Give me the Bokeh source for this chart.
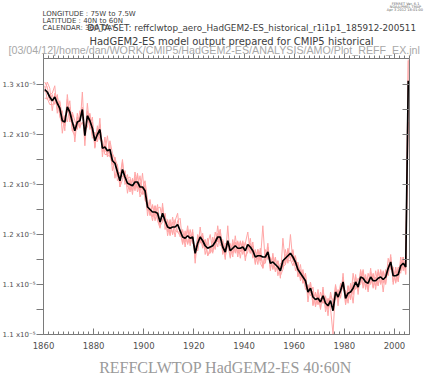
from bokeh.plotting import figure
from bokeh.models import FixedTicker, LinearAxis, Label, Range1d
from bokeh.embed import file_html
from bokeh.resources import INLINE

# ---------------- data (units of 1e-5) ----------------
years = list(range(1860, 2006))

ens_mean = [
    1.276, 1.274, 1.270, 1.267, 1.270, 1.265, 1.261, 1.251, 1.250, 1.262,
    1.258, 1.250, 1.243, 1.250, 1.251, 1.260, 1.239, 1.255, 1.251, 1.245,
    1.235, 1.240, 1.244, 1.229, 1.230, 1.227, 1.228, 1.219, 1.217, 1.210,
    1.203, 1.212, 1.206, 1.201, 1.200, 1.199, 1.202, 1.202, 1.198, 1.198,
    1.195, 1.182, 1.180, 1.178, 1.178, 1.177, 1.170, 1.177, 1.171, 1.166,
    1.165, 1.166, 1.166, 1.168, 1.163, 1.158, 1.157, 1.159, 1.157, 1.158,
    1.145, 1.153, 1.158, 1.155, 1.151, 1.149, 1.150, 1.151, 1.154, 1.158,
    1.158, 1.150, 1.146, 1.155, 1.147, 1.149, 1.151, 1.149, 1.149, 1.150,
    1.147, 1.152, 1.150, 1.147, 1.142, 1.143, 1.143, 1.142, 1.142, 1.146,
    1.137, 1.138, 1.136, 1.134, 1.131, 1.139, 1.141, 1.143, 1.145, 1.142,
    1.138, 1.132, 1.129, 1.126, 1.123, 1.114, 1.117, 1.110, 1.108, 1.109,
    1.106, 1.111, 1.105, 1.103, 1.107, 1.099, 1.114, 1.110, 1.115, 1.122,
    1.109, 1.113, 1.114, 1.117, 1.122, 1.118, 1.126, 1.125, 1.122, 1.121,
    1.126, 1.123, 1.123, 1.125, 1.126, 1.124, 1.126, 1.133, 1.138, 1.127,
    1.127, 1.128, 1.135, 1.137, 1.134, 1.283,
]

member_1 = [
    1.282, 1.278, 1.267, 1.272, 1.264, 1.272, 1.257, 1.259, 1.243, 1.272,
    1.253, 1.256, 1.234, 1.254, 1.245, 1.274, 1.236, 1.265, 1.244, 1.250,
    1.229, 1.247, 1.239, 1.235, 1.226, 1.239, 1.222, 1.224, 1.205, 1.216,
    1.198, 1.218, 1.202, 1.208, 1.194, 1.204, 1.195, 1.208, 1.193, 1.209,
    1.187, 1.186, 1.175, 1.184, 1.171, 1.181, 1.182, 1.171, 1.176, 1.162,
    1.172, 1.160, 1.171, 1.177, 1.158, 1.164, 1.150, 1.164, 1.153, 1.164,
    1.137, 1.158, 1.154, 1.161, 1.144, 1.153, 1.160, 1.146, 1.162, 1.154,
    1.164, 1.144, 1.153, 1.150, 1.152, 1.142, 1.159, 1.145, 1.154, 1.144,
    1.153, 1.162, 1.145, 1.151, 1.136, 1.148, 1.139, 1.167, 1.137, 1.150,
    1.131, 1.145, 1.131, 1.139, 1.125, 1.157, 1.136, 1.149, 1.141, 1.148,
    1.131, 1.137, 1.125, 1.132, 1.118, 1.118, 1.111, 1.115, 1.103, 1.116,
    1.100, 1.116, 1.101, 1.109, 1.102, 1.105, 1.109, 1.116, 1.109, 1.129,
    1.104, 1.119, 1.108, 1.122, 1.118, 1.125, 1.121, 1.131, 1.116, 1.129,
    1.121, 1.129, 1.119, 1.130, 1.120, 1.131, 1.121, 1.141, 1.132, 1.132,
    1.122, 1.134, 1.131, 1.142, 1.129, 1.300,
]

member_2 = [
    1.274, 1.282, 1.277, 1.259, 1.273, 1.260, 1.267, 1.241, 1.255, 1.258,
    1.267, 1.243, 1.248, 1.244, 1.259, 1.254, 1.246, 1.250, 1.257, 1.237,
    1.239, 1.234, 1.253, 1.222, 1.238, 1.222, 1.232, 1.211, 1.222, 1.206,
    1.210, 1.206, 1.211, 1.193, 1.204, 1.192, 1.210, 1.197, 1.207, 1.192,
    1.200, 1.175, 1.188, 1.174, 1.183, 1.171, 1.165, 1.185, 1.164, 1.172,
    1.160, 1.170, 1.158, 1.171, 1.173, 1.153, 1.161, 1.153, 1.164, 1.153,
    1.151, 1.147, 1.166, 1.151, 1.156, 1.143, 1.146, 1.158, 1.149, 1.167,
    1.151, 1.155, 1.140, 1.167, 1.141, 1.153, 1.146, 1.155, 1.141, 1.154,
    1.142, 1.146, 1.157, 1.141, 1.147, 1.136, 1.149, 1.133, 1.148, 1.140,
    1.142, 1.133, 1.142, 1.127, 1.135, 1.133, 1.148, 1.137, 1.160, 1.138,
    1.143, 1.126, 1.136, 1.121, 1.129, 1.106, 1.122, 1.103, 1.114, 1.104,
    1.114, 1.105, 1.110, 1.095, 1.114, 1.104, 1.120, 1.103, 1.120, 1.117,
    1.115, 1.105, 1.121, 1.112, 1.128, 1.112, 1.131, 1.117, 1.128, 1.116,
    1.133, 1.117, 1.131, 1.119, 1.131, 1.114, 1.132, 1.128, 1.144, 1.120,
    1.134, 1.122, 1.142, 1.131, 1.140, 1.299,
]

member_3 = [
    1.279, 1.268, 1.272, 1.273, 1.279, 1.257, 1.266, 1.255, 1.247, 1.268,
    1.250, 1.258, 1.251, 1.245, 1.254, 1.262, 1.231, 1.259, 1.247, 1.254,
    1.230, 1.245, 1.236, 1.233, 1.224, 1.224, 1.235, 1.225, 1.220, 1.203,
    1.206, 1.220, 1.200, 1.205, 1.206, 1.195, 1.206, 1.194, 1.202, 1.196,
    1.203, 1.188, 1.176, 1.183, 1.175, 1.184, 1.166, 1.182, 1.167, 1.171,
    1.159, 1.174, 1.163, 1.162, 1.159, 1.163, 1.154, 1.167, 1.151, 1.162,
    1.141, 1.160, 1.153, 1.159, 1.148, 1.157, 1.145, 1.155, 1.148, 1.161,
    1.153, 1.156, 1.142, 1.152, 1.153, 1.145, 1.154, 1.142, 1.155, 1.147,
    1.154, 1.148, 1.153, 1.142, 1.148, 1.140, 1.147, 1.135, 1.138, 1.153,
    1.133, 1.142, 1.130, 1.139, 1.127, 1.132, 1.144, 1.139, 1.139, 1.147,
    1.135, 1.138, 1.123, 1.130, 1.116, 1.120, 1.113, 1.118, 1.102, 1.112,
    1.101, 1.118, 1.098, 1.108, 1.101, 1.080, 1.119, 1.107, 1.121, 1.116,
    1.113, 1.109, 1.119, 1.105, 1.126, 1.115, 1.132, 1.120, 1.126, 1.114,
    1.130, 1.118, 1.126, 1.119, 1.132, 1.121, 1.131, 1.127, 1.142, 1.122,
    1.131, 1.123, 1.138, 1.133, 1.139, 1.261,
]

member_4 = [
    1.269, 1.269, 1.264, 1.264, 1.265, 1.271, 1.254, 1.249, 1.255, 1.250,
    1.262, 1.243, 1.239, 1.257, 1.246, 1.250, 1.243, 1.246, 1.256, 1.239,
    1.242, 1.234, 1.248, 1.226, 1.232, 1.223, 1.223, 1.216, 1.221, 1.215,
    1.198, 1.204, 1.211, 1.198, 1.196, 1.205, 1.197, 1.209, 1.190, 1.195,
    1.190, 1.179, 1.181, 1.171, 1.183, 1.172, 1.167, 1.170, 1.177, 1.159,
    1.169, 1.160, 1.172, 1.162, 1.162, 1.152, 1.163, 1.152, 1.160, 1.153,
    1.151, 1.147, 1.159, 1.149, 1.156, 1.143, 1.149, 1.145, 1.157, 1.150,
    1.164, 1.145, 1.149, 1.151, 1.142, 1.156, 1.145, 1.154, 1.146, 1.155,
    1.139, 1.152, 1.145, 1.154, 1.137, 1.148, 1.137, 1.133, 1.145, 1.141,
    1.142, 1.132, 1.141, 1.131, 1.137, 1.134, 1.136, 1.147, 1.140, 1.135,
    1.143, 1.127, 1.132, 1.121, 1.129, 1.112, 1.122, 1.104, 1.113, 1.104,
    1.109, 1.105, 1.111, 1.100, 1.111, 1.107, 1.108, 1.114, 1.110, 1.126,
    1.104, 1.119, 1.108, 1.129, 1.116, 1.120, 1.120, 1.132, 1.118, 1.125,
    1.120, 1.128, 1.116, 1.132, 1.121, 1.130, 1.120, 1.136, 1.134, 1.134,
    1.121, 1.133, 1.129, 1.142, 1.128, 1.250,
]

members = [member_1, member_2, member_3, member_4]

x_bounds = (1860, 2006)
y_bounds = (1.08, 1.3008)

x_ticks = [1860, 1880, 1900, 1920, 1940, 1960, 1980, 2000]
x_tick_labels = ["1860", "1880", "1900", "1920", "1940", "1960", "1980", "2000"]
x_minor = list(range(1860, 2007, 2))

y_ticks = [1.08, 1.12, 1.16, 1.2, 1.24, 1.28]
y_tick_labels = ["1.1 x10\u207b\u2075", "1.1 x10\u207b\u2075", "1.2 x10\u207b\u2075",
                 "1.2 x10\u207b\u2075", "1.2 x10\u207b\u2075", "1.3 x10\u207b\u2075"]
y_minor = [1.10, 1.14, 1.18, 1.22, 1.26]

title_text = "REFFCLWTOP HadGEM2-ES 40:60N"
header_lines = ["LONGITUDE : 75W to 7.5W", "LATITUDE : 40N to 60N", "CALENDAR: 360_DAY"]
dataset_text = "DATA SET: reffclwtop_aero_HadGEM2-ES_historical_r1i1p1_185912-200511"
subtitle_text = "HadGEM2-ES model output prepared for CMIP5 historical"
path_text = "[03/04/12]/home/dan/WORK/CMIP5/HadGEM2-ES/ANALYSIS/AMO/Plot_REFF_EX.jnl"
stamp_lines = ["FERRET Ver. 6.1", "NOAA/PMEL TMAP", "Apr  3 2012 18:01:00"]

# ---------------- layout: the frame fills the canvas, the plot box sits inside ----------------
W, H = 437, 374
BOX_L, BOX_R, BOX_T, BOX_B = 43, 409, 58, 334   # pixel edges of the plot box

kx = (x_bounds[1] - x_bounds[0]) / (BOX_R - BOX_L)
ky = (y_bounds[1] - y_bounds[0]) / (BOX_B - BOX_T)
x_range = Range1d(x_bounds[0] - BOX_L * kx, x_bounds[1] + (W - BOX_R) * kx)
y_range = Range1d(y_bounds[0] - (H - BOX_B) * ky, y_bounds[1] + BOX_T * ky)

p = figure(width=W, height=H, output_backend="svg", toolbar_location=None,
           x_range=x_range, y_range=y_range, x_axis_type=None, y_axis_type=None,
           min_border=0, background_fill_color="white", border_fill_color="white")
p.outline_line_color = None
p.grid.visible = False

xs = [y + 0.5 for y in years]
for m in members:
    p.line(xs, m, line_color="#ffa6a6", line_width=1)
p.line(xs, ens_mean, line_color="black", line_width=1.7)

AX = "#7a7a7a"
LBL = "#505050"

xt = FixedTicker(ticks=x_ticks, minor_ticks=x_minor)
yt = FixedTicker(ticks=y_ticks, minor_ticks=y_minor)

bottom = LinearAxis(ticker=xt, fixed_location=y_bounds[0], bounds=x_bounds,
                    major_label_overrides=dict(zip(x_ticks, x_tick_labels)),
                    axis_line_color=AX, major_tick_line_color=AX, minor_tick_line_color=AX,
                    major_tick_in=6, major_tick_out=0, minor_tick_in=3, minor_tick_out=0,
                    major_label_standoff=7, major_label_text_font="DejaVu Sans",
                    major_label_text_font_size="8.5px", major_label_text_color=LBL)
p.add_layout(bottom, "below")

left = LinearAxis(ticker=yt, fixed_location=x_bounds[0], bounds=y_bounds,
                  major_label_overrides=dict(zip(y_ticks, y_tick_labels)),
                  axis_line_color=AX, major_tick_line_color=AX, minor_tick_line_color=AX,
                  major_tick_in=0, major_tick_out=7, minor_tick_in=0, minor_tick_out=7,
                  major_label_standoff=1, major_label_text_font="DejaVu Sans",
                  major_label_text_font_size="7px", major_label_text_color=LBL)
p.add_layout(left, "left")

top = LinearAxis(ticker=xt, fixed_location=y_bounds[1], bounds=x_bounds,
                 major_label_text_color=None,
                 axis_line_color=AX, major_tick_line_color=AX, minor_tick_line_color=AX,
                 major_tick_in=0, major_tick_out=5, minor_tick_in=0, minor_tick_out=3)
p.add_layout(top, "above")

right = LinearAxis(ticker=yt, fixed_location=x_bounds[1], bounds=y_bounds,
                   major_label_text_color=None,
                   axis_line_color=AX, major_tick_line_color=AX, minor_tick_line_color=AX,
                   major_tick_in=7, major_tick_out=0, minor_tick_in=7, minor_tick_out=0)
p.add_layout(right, "right")


def put(X, Y, text, size, color="#404040", font="DejaVu Sans", align="left"):
    # X, Y: canvas pixels from top-left (frame == canvas)
    p.add_layout(Label(x=X, y=H - Y, x_units="screen", y_units="screen",
                       text=text, text_font=font, text_font_size=size,
                       text_color=color, text_align=align, text_baseline="middle"))


for i, t in enumerate(header_lines):
    put(42, 13.5 + 6.8 * i, t, "7px")
put(87, 27, dataset_text, "8.8px")
put(231, 40.5, subtitle_text, "10px", align="center")
put(8, 49.5, path_text, "10.7px", color="#a8a8a8", font="Liberation Sans")
for i, t in enumerate(stamp_lines):
    put(405, 3 + 3 * i, t, "3.5px", color="#606060", align="center")
put(225, 366.5, title_text, "16px", color="#9a9a9a", font="Liberation Serif", align="center")

open("out.html", "w").write(file_html(p, INLINE))
